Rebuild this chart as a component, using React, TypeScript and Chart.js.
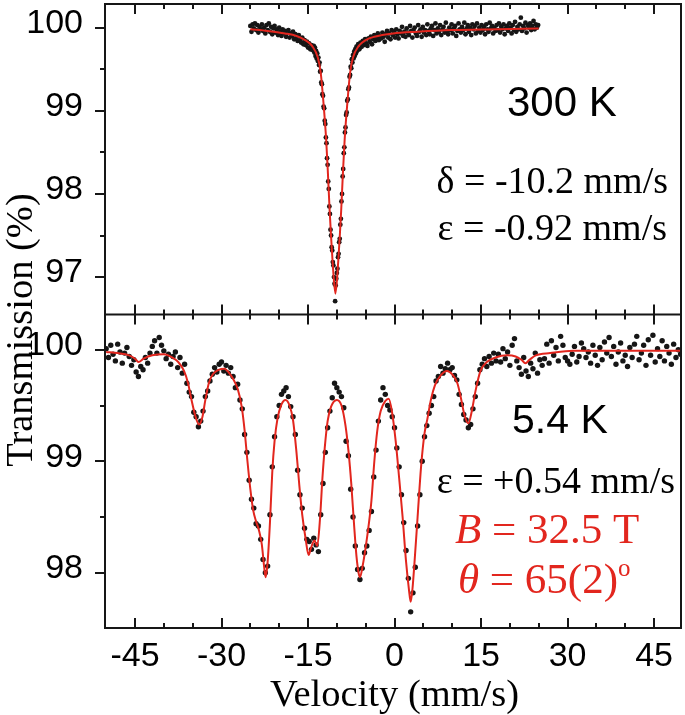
import React, { useEffect, useRef } from "react";
import { Chart, registerables } from "chart.js";

Chart.register(...registerables);

// ---------- 300 K spectrum (top panel) ----------
// channel velocities: start + i*step (mm/s)
const TOP_LEFT_START = -25.0;
const TOP_LEFT_STEP = 0.2;
const topLeftValues = [
  100.02, 99.95, 100.04, 99.99, 100.05, 99.97, 100.03, 99.94, 100.01, 99.98,
  100.04, 99.96, 100.0, 99.93, 100.03, 99.97, 100.05, 99.95, 100.01, 99.92,
  99.99, 100.02, 99.94, 99.98, 99.91, 100.0, 99.95, 99.9, 99.98, 99.93,
  99.96, 99.89, 99.94, 99.97, 99.88, 99.93, 99.9, 99.95, 99.86, 99.92,
  99.88, 99.84, 99.91, 99.85, 99.82, 99.88, 99.8, 99.85, 99.79, 99.83,
  99.76, 99.81, 99.74, 99.79, 99.73,
];

const TOP_DIP_START = -14.0;
const TOP_DIP_STEP = 0.1;
const topDipValues = [
  99.78, 99.7, 99.76, 99.66, 99.72, 99.63, 99.69, 99.6, 99.64, 99.55,
  99.58, 99.47, 99.48, 99.34, 99.32, 99.2, 99.18, 99.05, 99.03, 98.88,
  98.84, 98.68, 98.61, 98.43, 98.35, 98.15, 98.06, 97.85, 97.76, 97.57,
  97.5, 97.36, 97.32, 97.18, 97.14, 97.0, 96.92, 96.71, 96.9, 96.98,
  97.05, 97.1, 97.24, 97.28, 97.42, 97.46, 97.63, 97.7, 97.91, 98.0,
  98.21, 98.3, 98.49, 98.56, 98.74, 98.8, 98.95, 98.98, 99.12, 99.14,
  99.26, 99.28, 99.41, 99.43, 99.53, 99.51, 99.62, 99.58, 99.67, 99.63,
  99.71, 99.66, 99.74, 99.69, 99.77, 99.72,
];

const TOP_RIGHT_START = -6.3;
const TOP_RIGHT_STEP = 0.2;
const topRightValues = [
  99.8, 99.74, 99.82, 99.77, 99.84, 99.79, 99.86, 99.81, 99.78, 99.87,
  99.83, 99.89, 99.8, 99.86, 99.91, 99.84, 99.88, 99.93, 99.85, 99.9,
  99.87, 99.94, 99.89, 99.83, 99.92, 99.96, 99.88, 99.93, 99.86, 99.97,
  99.91, 99.95, 99.88, 99.98, 99.92, 99.87, 99.96, 99.93, 100.01, 99.9,
  99.95, 99.89, 99.99, 99.94, 99.91, 100.02, 99.96, 99.88, 99.97, 100.0,
  99.93, 99.9, 100.03, 99.95, 99.98, 99.89, 100.01, 99.94, 99.97, 99.91,
  100.04, 99.96, 99.92, 99.99, 100.02, 99.9, 99.97, 100.05, 99.93, 99.99,
  99.95, 100.03, 99.91, 99.98, 100.01, 99.94, 100.06, 99.96, 99.92, 100.0,
  99.97, 100.04, 99.93, 99.99, 100.02, 99.9, 99.96, 100.05, 99.98, 99.94,
  100.01, 99.97, 100.06, 99.92, 99.99, 100.03, 99.95, 100.0, 99.91, 100.04,
  99.98, 100.02, 99.93, 100.05, 99.96, 100.0, 99.94, 100.03, 99.97, 100.01,
  99.92, 100.04, 99.98, 99.95, 100.06, 99.99, 100.02, 99.93, 100.0, 99.96,
  100.03, 99.97, 100.05, 99.94, 100.01, 99.98, 100.04, 99.92, 99.99, 100.02,
  99.96, 100.05, 100.0, 99.93, 100.03, 99.97, 100.07, 99.95, 100.01, 99.98,
  100.04, 100.12, 99.96, 100.02, 99.99, 100.06, 99.94, 100.03, 100.0, 100.05,
  99.97, 100.02, 100.08, 99.98, 100.04, 100.0, 100.03,
];

const topFitVelocity = [
  -25, -22, -19, -17, -15.5, -14.3, -13.3, -12.8, -12.35, -11.85, -11.55,
  -11.25, -11.03, -10.75, -10.25, -9.75, -9.47, -9.25, -8.95, -8.65, -8.15,
  -7.7, -7.2, -6.2, -5.0, -3.5, -0.25, 4, 10, 18, 25,
];
const topFitValues = [
  99.98, 99.96, 99.93, 99.9, 99.85, 99.78, 99.64, 99.46, 99.12, 98.65, 98.25,
  97.8, 97.52, 97.2, 96.8, 97.2, 97.52, 97.8, 98.25, 98.65, 99.12,
  99.46, 99.64, 99.78, 99.85, 99.89, 99.93, 99.95, 99.97, 99.98, 99.99,
];

// ---------- 5.4 K spectrum (bottom panel) ----------
const BOT_START = -50.0;
const BOT_STEP = 0.4;
const botValues = [
  100.01, 99.93, 100.04, 99.96, 99.9, 100.05, 99.98, 99.88, 99.97, 100.02,
  99.94, 99.86, 99.91, 99.8, 99.76, 99.85, 99.82, 99.93, 99.88, 99.97,
  100.03, 100.08, 99.97, 100.11, 100.04, 99.99, 99.92, 99.96, 99.87, 99.94,
  99.98, 99.84, 99.93, 99.79, 99.87, 99.7, 99.62, 99.58, 99.44, 99.4,
  99.31, 99.36, 99.45, 99.58, 99.63, 99.72, 99.78, 99.84, 99.8, 99.87,
  99.89, 99.81, 99.86, 99.79, 99.84, 99.76, 99.66, 99.69, 99.55, 99.47,
  99.24, 99.08, 98.83, 98.66, 98.58, 98.44, 98.42, 98.3, 98.12, 98.0,
  98.06, 98.52, 98.95, 99.22, 99.4, 99.5, 99.6, 99.63, 99.66, 99.58,
  99.49, 99.4, 99.24, 98.92, 98.7, 98.58, 98.4, 98.3, 98.28, 98.21,
  98.31, 98.25, 98.19, 98.52, 98.8, 99.08, 99.3, 99.45, 99.57, 99.7,
  99.66, 99.62, 99.58, 99.48, 99.18, 99.05, 98.75, 98.5, 98.24, 98.03,
  97.94, 98.04, 98.18, 98.24, 98.38, 98.55, 98.86, 99.1, 99.36, 99.55,
  99.66, 99.6, 99.5, 99.46, 99.4, 99.3, 99.12, 98.95, 98.7, 98.45,
  98.2, 97.95, 97.65, 97.82, 98.05, 98.42, 98.7, 99.0, 99.22, 99.32,
  99.43, 99.5, 99.58, 99.72, 99.76, 99.85, 99.79, 99.83, 99.88, 99.82,
  99.84, 99.77, 99.73, 99.6, 99.51, 99.42, 99.37, 99.3, 99.33, 99.47,
  99.58, 99.7, 99.82, 99.87, 99.92, 99.85, 99.94, 99.88, 99.97, 99.9,
  99.96, 99.89, 100.01, 99.92, 99.98, 99.86, 100.04, 100.1, 99.9, 99.84,
  99.78, 99.93, 99.81, 99.76, 99.88, 99.83, 99.97, 99.79, 99.91, 99.86,
  99.92, 100.05, 99.88, 100.08, 99.95, 100.02, 99.9, 100.12, 100.04, 99.93,
  99.9, 99.87, 99.96, 100.03, 99.89, 99.94, 100.06, 100.01, 99.93, 99.98,
  99.88, 100.04, 99.95, 99.86, 100.02, 99.91, 100.07, 99.97, 100.11, 99.94,
  100.03, 99.87, 99.98, 100.06, 99.9, 99.95, 99.85, 100.02, 99.93, 100.05,
  100.12, 99.91, 99.97, 100.04, 99.86, 100.09, 99.95, 100.13, 99.89, 100.01,
  99.94, 100.08, 99.9, 100.03, 99.97, 99.87, 100.05, 99.93, 100.0, 99.96,
];

const botFitVelocity = [
  -50, -48, -46, -45, -44.4, -43.5, -42, -40, -38.5, -37.5, -36.5, -35.8,
  -35.2, -34.5, -33.9, -33.3, -32.8, -32.2, -31.5, -30.5, -29.5, -28.5, -28.0,
  -27.2, -26.5, -26.0, -25.5, -25.0, -24.5, -24.0, -23.5, -23.0, -22.6,
  -22.35, -22.0, -21.6, -21.2, -20.8, -20.3, -19.6, -18.9, -18.2, -17.6,
  -17.0, -16.5, -16.0, -15.4, -14.9, -14.5, -13.9, -13.4, -12.9, -12.5,
  -12.1, -11.6, -11.0, -10.0, -9.2, -8.5, -8.0, -7.5, -7.0, -6.6, -6.2, -6.0,
  -5.5, -5.0, -4.5, -4.0, -3.5, -3.0, -2.4, -1.6, -1.0, -0.4, 0.2, 0.8, 1.4,
  2.0, 2.5, 2.8, 3.1, 3.5, 4.0, 4.6, 5.2, 5.7, 6.3, 7.0, 8.0, 9.1, 10.0, 10.9,
  11.5, 12.1, 12.8, 13.4, 14.0, 14.9, 16.0, 17.5, 19.5, 21.0, 22.0, 22.7,
  23.4, 24.5, 27, 31, 40, 49.7,
];
const botFitValues = [
  99.98, 99.97, 99.95, 99.92, 99.89, 99.92, 99.95, 99.96, 99.93, 99.89, 99.81,
  99.7, 99.55, 99.4, 99.33, 99.4, 99.55, 99.7, 99.78, 99.82, 99.83, 99.78,
  99.74, 99.65, 99.49, 99.28, 99.0, 98.75, 98.56, 98.46, 98.38, 98.25, 98.05,
  97.96, 98.1, 98.45, 98.9, 99.18, 99.38, 99.51, 99.55, 99.5, 99.37,
  99.08, 98.78, 98.52, 98.3, 98.16, 98.22, 98.29, 98.24, 98.5, 98.85,
  99.12, 99.36, 99.49, 99.55, 99.5, 99.32, 99.1, 98.8, 98.42, 98.15, 97.99,
  97.96, 98.07, 98.23, 98.42, 98.65, 99.0, 99.27, 99.45, 99.54, 99.56, 99.43,
  99.18, 98.85, 98.5, 98.1, 97.85, 97.74, 97.85, 98.12, 98.5, 98.95, 99.25,
  99.38, 99.55, 99.68, 99.77, 99.81, 99.78, 99.7, 99.57, 99.42, 99.34, 99.45,
  99.62, 99.81, 99.89, 99.93, 99.95, 99.94, 99.91, 99.88, 99.91, 99.95,
  99.97, 99.99, 99.99, 99.99,
];

// ---------- axes ----------
const X_MIN = -50.2;
const X_MAX = 49.67;
const TOP_Y_MIN = 96.55;
const TOP_Y_MAX = 100.284;
const BOT_Y_MIN = 97.505;
const BOT_Y_MAX = 100.316;

const xTickLabels = [-45, -30, -15, 0, 15, 30, 45];
const xMinorTicks = [-40, -35, -25, -20, -10, -5, 5, 10, 20, 25, 35, 40];
const topYTicks = [97, 98, 99, 100];
const topYMinor = [97.5, 98.5, 99.5];
const botYTicks = [98, 99, 100];
const botYMinor = [98.5, 99.5];

const INK = "#161616";
const RED = "#e2261e";
const SANS = '"Liberation Sans", Arial, sans-serif';
const SERIF = '"Liberation Serif", "Times New Roman", serif';

function channelPoints(start: number, step: number, values: number[]) {
  return values.map((v, i) => ({ x: Math.round((start + i * step) * 100) / 100, y: v }));
}
function pairPoints(xs: number[], ys: number[]) {
  return xs.map((x, i) => ({ x, y: ys[i] }));
}

type Run = { text: string; font: string; color: string; dy?: number };
function drawRuns(ctx: CanvasRenderingContext2D, runs: Run[], x: number, y: number, align: "left" | "right") {
  let total = 0;
  runs.forEach((r) => {
    ctx.font = r.font;
    total += ctx.measureText(r.text).width;
  });
  let cx = align === "right" ? x - total : x;
  ctx.textAlign = "left";
  ctx.textBaseline = "alphabetic";
  runs.forEach((r) => {
    ctx.font = r.font;
    ctx.fillStyle = r.color;
    ctx.fillText(r.text, cx, y + (r.dy || 0));
    cx += ctx.measureText(r.text).width;
  });
}

const framePlugin = {
  id: "mossFrame",
  afterDraw(chart: any) {
    const { ctx, chartArea, scales } = chart;
    const xs = scales.x;
    const yT = scales.yTop;
    const yB = scales.yBot;
    const mid = yT.bottom;
    ctx.save();
    ctx.strokeStyle = INK;
    ctx.lineWidth = 2;
    ctx.beginPath();
    ctx.rect(chartArea.left, chartArea.top, chartArea.right - chartArea.left, chartArea.bottom - chartArea.top);
    ctx.moveTo(chartArea.left, mid);
    ctx.lineTo(chartArea.right, mid);
    const xt = [...xTickLabels.map((v) => [v, 10]), ...xMinorTicks.map((v) => [v, 5])];
    xt.forEach(([v, len]) => {
      const px = Math.round(xs.getPixelForValue(v));
      ctx.moveTo(px, chartArea.bottom);
      ctx.lineTo(px, chartArea.bottom - len);
      ctx.moveTo(px, mid);
      ctx.lineTo(px, mid - len);
      ctx.moveTo(px, mid);
      ctx.lineTo(px, mid + len);
      ctx.moveTo(px, chartArea.top);
      ctx.lineTo(px, chartArea.top + len);
    });
    const yt: [any, number[], number][] = [
      [yT, topYTicks, 10],
      [yT, topYMinor, 5],
      [yB, botYTicks, 10],
      [yB, botYMinor, 5],
    ];
    yt.forEach(([sc, vals, len]) => {
      vals.forEach((v) => {
        const py = Math.round(sc.getPixelForValue(v));
        ctx.moveTo(chartArea.left, py);
        ctx.lineTo(chartArea.left - len, py);
      });
    });
    ctx.stroke();

    // axis titles
    ctx.fillStyle = "#000";
    ctx.font = `38.5px ${SERIF}`;
    ctx.textAlign = "center";
    ctx.textBaseline = "alphabetic";
    ctx.fillText("Velocity (mm/s)", xs.getPixelForValue(0), 706);
    ctx.save();
    ctx.translate(32, 330);
    ctx.rotate(-Math.PI / 2);
    ctx.fillText("Transmission (%)", 0, 0);
    ctx.restore();

    // annotations
    const blackSerif = `38px ${SERIF}`;
    drawRuns(ctx, [{ text: "300 K", font: `42px ${SANS}`, color: "#000" }], 507, 116, "left");
    drawRuns(ctx, [{ text: "δ = -10.2 mm/s", font: blackSerif, color: "#000" }], 668, 193, "right");
    drawRuns(ctx, [{ text: "ε = -0.92 mm/s", font: blackSerif, color: "#000" }], 667, 240, "right");
    drawRuns(ctx, [{ text: "5.4 K", font: `41px ${SANS}`, color: "#000" }], 512, 433, "left");
    drawRuns(ctx, [{ text: "ε = +0.54 mm/s", font: blackSerif, color: "#000" }], 675, 493, "right");
    drawRuns(
      ctx,
      [
        { text: "B", font: `italic 43px ${SERIF}`, color: RED },
        { text: " = 32.5 T", font: `43px ${SERIF}`, color: RED },
      ],
      455,
      543,
      "left"
    );
    drawRuns(
      ctx,
      [
        { text: "θ", font: `italic 43px ${SERIF}`, color: RED },
        { text: " = 65(2)", font: `43px ${SERIF}`, color: RED },
        { text: "o", font: `25px ${SERIF}`, color: RED, dy: -17 },
      ],
      458,
      593,
      "left"
    );
    ctx.restore();
  },
};

export default function App() {
  const ref = useRef<HTMLCanvasElement | null>(null);
  useEffect(() => {
    if (!ref.current) return;
    const tickFont = { family: SANS, size: 34 };
    const chart = new Chart(ref.current, {
      type: "scatter",
      data: {
        datasets: [
          {
            label: "fit 300 K",
            data: pairPoints(topFitVelocity, topFitValues),
            yAxisID: "yTop",
            showLine: true,
            borderColor: RED,
            borderWidth: 2,
            pointRadius: 0,
            cubicInterpolationMode: "monotone",
            order: 0,
          },
          {
            label: "fit 5.4 K",
            data: pairPoints(botFitVelocity, botFitValues),
            yAxisID: "yBot",
            showLine: true,
            borderColor: RED,
            borderWidth: 2,
            pointRadius: 0,
            cubicInterpolationMode: "monotone",
            order: 0,
          },
          {
            label: "300 K",
            data: [
              ...channelPoints(TOP_LEFT_START, TOP_LEFT_STEP, topLeftValues),
              ...channelPoints(TOP_DIP_START, TOP_DIP_STEP, topDipValues),
              ...channelPoints(TOP_RIGHT_START, TOP_RIGHT_STEP, topRightValues),
            ],
            yAxisID: "yTop",
            pointRadius: 2.4,
            pointBorderWidth: 0,
            backgroundColor: INK,
            borderColor: INK,
            order: 1,
          },
          {
            label: "5.4 K",
            data: channelPoints(BOT_START, BOT_STEP, botValues),
            yAxisID: "yBot",
            pointRadius: 2.7,
            pointBorderWidth: 0,
            backgroundColor: INK,
            borderColor: INK,
            order: 1,
          },
        ],
      },
      options: {
        animation: false,
        responsive: false,
        events: [],
        layout: { padding: { top: 3, right: 2, left: 0, bottom: 0 } },
        plugins: { legend: { display: false }, tooltip: { enabled: false } },
        scales: {
          x: {
            type: "linear",
            position: "bottom",
            min: X_MIN,
            max: X_MAX,
            grid: { display: false },
            border: { display: false },
            afterBuildTicks: (s: any) => {
              s.ticks = xTickLabels.map((v) => ({ value: v }));
            },
            afterFit: (s: any) => {
              s.height = 87;
              s.paddingLeft = 0;
              s.paddingRight = 0;
            },
            ticks: { font: tickFont, color: "#000", padding: 0, maxRotation: 0, autoSkip: false },
          },
          yBot: {
            type: "linear",
            position: "left",
            stack: "v",
            stackWeight: 314,
            min: BOT_Y_MIN,
            max: BOT_Y_MAX,
            grid: { display: false },
            border: { display: false },
            afterBuildTicks: (s: any) => {
              s.ticks = botYTicks.map((v) => ({ value: v }));
            },
            afterFit: (s: any) => {
              s.width = 105;
              s.paddingTop = 0;
              s.paddingBottom = 0;
            },
            ticks: { font: tickFont, color: "#000", padding: 14, labelOffset: -4 },
          },
          yTop: {
            type: "linear",
            position: "left",
            stack: "v",
            stackWeight: 311,
            min: TOP_Y_MIN,
            max: TOP_Y_MAX,
            grid: { display: false },
            border: { display: false },
            afterBuildTicks: (s: any) => {
              s.ticks = topYTicks.map((v) => ({ value: v }));
            },
            afterFit: (s: any) => {
              s.width = 105;
              s.paddingTop = 0;
              s.paddingBottom = 0;
            },
            ticks: { font: tickFont, color: "#000", padding: 14, labelOffset: -4 },
          },
        },
      } as any,
      plugins: [framePlugin],
    });
    return () => chart.destroy();
  }, []);
  return (
    <div style={{ position: "absolute", left: 0, top: 0, width: 685, height: 715, background: "#fff" }}>
      <canvas ref={ref} width={685} height={715} style={{ display: "block", width: 685, height: 715 }} />
    </div>
  );
}
